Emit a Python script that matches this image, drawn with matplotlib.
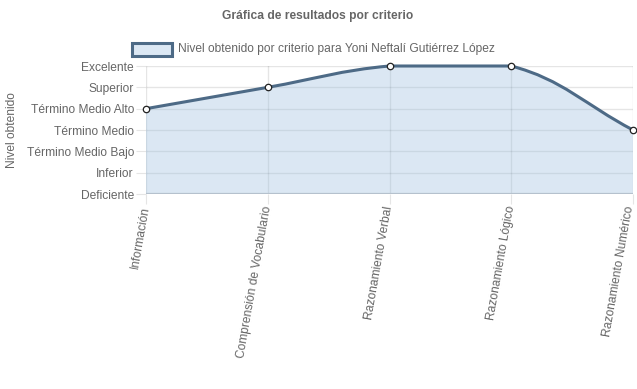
import numpy as np
import matplotlib.pyplot as plt
from matplotlib.path import Path
from matplotlib.patches import PathPatch, Rectangle
from matplotlib.transforms import ScaledTranslation

plt.rcParams['font.family'] = ['Liberation Sans', 'DejaVu Sans']

niveles = ['Deficiente', 'Inferior', 'Término Medio Bajo', 'Término Medio',
           'Término Medio Alto', 'Superior', 'Excelente']
criterios = ['Información', 'Comprensión de Vocabulario', 'Razonamiento Verbal',
             'Razonamiento Lógico', 'Razonamiento Numérico']
resultados = ['Término Medio Alto', 'Superior', 'Excelente', 'Excelente', 'Término Medio']
serie = 'Nivel obtenido por criterio para Yoni Neftalí Gutiérrez López'

gris = '#666666'
linea = '#4d6a86'
relleno = (0.60, 0.74, 0.87, 0.35)
fs = 8.64   # 12px

W, H = 637, 389
fig = plt.figure(figsize=(W / 100, H / 100), dpi=100)
ax = fig.add_axes([146 / W, 1 - 194 / H, (633 - 146) / W, (194 - 66) / H])

xs = np.arange(len(criterios))
ys = np.array([niveles.index(r) for r in resultados], dtype=float)
ax.set_xlim(0, len(criterios) - 1)
ax.set_ylim(0, len(niveles) - 1)

# curva tipo Chart.js (tension 0.4, puntos de control acotados al area)
tr = ax.transData
pts = tr.transform(np.column_stack([xs, ys]))
bb = ax.bbox
t = 0.4
cps_prev, cps_next = [], []
n = len(pts)
for i in range(n):
    cur = pts[i]
    prev = pts[i - 1] if i > 0 else cur
    nxt = pts[i + 1] if i < n - 1 else cur
    d01 = np.hypot(*(cur - prev))
    d12 = np.hypot(*(nxt - cur))
    tot = d01 + d12
    s01 = d01 / tot if tot else 0
    s12 = d12 / tot if tot else 0
    cp = cur - t * s01 * (nxt - prev)
    cn = cur + t * s12 * (nxt - prev)
    for c in (cp, cn):
        c[0] = min(max(c[0], bb.x0), bb.x1)
        c[1] = min(max(c[1], bb.y0), bb.y1)
    cps_prev.append(cp)
    cps_next.append(cn)

verts = [pts[0]]
codes = [Path.MOVETO]
for i in range(n - 1):
    verts += [cps_next[i], cps_prev[i + 1], pts[i + 1]]
    codes += [Path.CURVE4] * 3
verts = tr.inverted().transform(np.array(verts))

curva = Path(verts, codes)
area = Path(np.vstack([verts, [[xs[-1], 0], [xs[0], 0], verts[0]]]),
            codes + [Path.LINETO, Path.LINETO, Path.CLOSEPOLY])
ax.add_patch(PathPatch(area, facecolor=relleno, edgecolor='none', zorder=2))
ax.add_patch(PathPatch(curva, facecolor='none', edgecolor=linea, lw=2.2, zorder=3,
                       clip_on=False))
ax.plot(xs, ys, 'o', ms=4.6, mfc='white', mec='#222222', mew=0.9, zorder=4, clip_on=False)

ax.set_yticks(range(len(niveles)), niveles)
ax.set_xticks(xs, criterios)
ax.grid(True, color='#000000', alpha=0.1, lw=1)
ax.set_axisbelow(True)
for s in ax.spines.values():
    s.set_visible(False)
ax.axhline(0, color='#c4c4c4', lw=1.6, zorder=1)
ax.tick_params(axis='both', length=7.2, width=0.8, color='#e5e5e5', labelcolor=gris,
               labelsize=fs, pad=1.5)
for lab in ax.get_xticklabels():
    lab.set_rotation(80)
    lab.set_ha('right')
    lab.set_va('center')
    lab.set_rotation_mode('anchor')
# la ultima etiqueta queda pegada al borde: correrla un poco
ult = ax.get_xticklabels()[-1]
ult.set_transform(ult.get_transform() + ScaledTranslation(-3 / 100, 0, fig.dpi_scale_trans))

fig.text(318 / W, 1 - 16 / H, 'Gráfica de resultados por criterio', ha='center', va='center',
         fontsize=fs, fontweight='bold', color=gris)
fig.text(12 / W, 1 - 130 / H, 'Nivel obtenido', rotation=90, ha='center', va='center',
         fontsize=fs, color=gris)

# leyenda
fig.patches.append(Rectangle((132 / W, 1 - 56 / H), 40 / W, 13 / H, transform=fig.transFigure,
                             facecolor=relleno, edgecolor=linea, lw=2.2))
fig.text(178 / W, 1 - 49 / H, serie, ha='left', va='center', fontsize=fs, color=gris)

fig.savefig('out.png', dpi=100)
